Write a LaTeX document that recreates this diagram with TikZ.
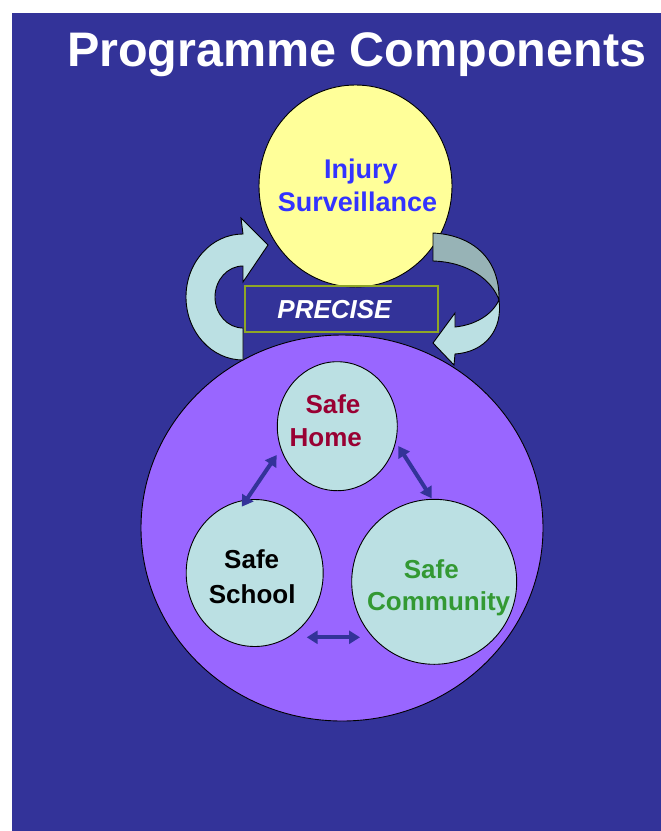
\documentclass[tikz,border=0pt]{standalone}
\usepackage{fontspec}
\setmainfont{Liberation Sans}
\usetikzlibrary{shapes.geometric,arrows.meta}
\definecolor{bgblue}{HTML}{333399}
\definecolor{violetfill}{HTML}{9966FF}
\definecolor{yellowfill}{HTML}{FFFF99}
\definecolor{cyanfill}{HTML}{BBE0E3}
\definecolor{darkribbon}{HTML}{97B3B6}
\definecolor{injuryblue}{HTML}{3333FF}
\definecolor{homered}{HTML}{990033}
\definecolor{commgreen}{HTML}{339933}
\definecolor{boxgreen}{RGB}{143,166,38}
\tikzset{
  blob/.style={ellipse, draw=black, line width=0.9pt, inner sep=0pt},
  lbl/.style={anchor=base, inner sep=0pt, font=\fontsize{26}{31}\selectfont\bfseries},
  linkarrow/.style={{Triangle[length=11pt,width=13pt]}-{Triangle[length=11pt,width=13pt]}, line width=4pt, draw=bgblue},
  ribbon/.style={draw=black, line width=0.9pt, line join=miter},
}
\begin{document}
\begin{tikzpicture}[x=1pt,y=-1pt]
\useasboundingbox (0,0) rectangle (661,831);
\fill[white] (0,0) rectangle (661,831);
\fill[bgblue] (12,13) rectangle (661,831);

% title
\node[anchor=base, inner sep=0pt, text=white, font=\fontsize{48.5}{58}\selectfont\bfseries] (title) at (356.7,66.5) {Programme Components};

% big purple circle
\node[blob, fill=violetfill, minimum width=402pt, minimum height=386pt] (outer) at (342,528) {};

% inner circles
\node[blob, fill=cyanfill, minimum width=120pt, minimum height=129pt] (home) at (337.3,426.2) {};
\node[blob, fill=cyanfill, minimum width=137pt, minimum height=147pt] (school) at (254.7,573) {};
\node[blob, fill=cyanfill, minimum width=165pt, minimum height=165pt] (community) at (434.2,581.8) {};

% link arrows
\coordinate (hs1) at (276.7,455);
\coordinate (hs2) at (241.7,506.7);
\coordinate (hc1) at (398.3,446);
\coordinate (hc2) at (431.7,498.3);
\coordinate (sc1) at (306.7,637.3);
\coordinate (sc2) at (360,637.3);
\draw[linkarrow] (hs1) -- (hs2);
\draw[linkarrow] (hc1) -- (hc2);
\draw[linkarrow] (sc1) -- (sc2);

% yellow circle
\node[blob, fill=yellowfill, minimum width=193pt, minimum height=202pt] (surv) at (355.5,186) {};

% PRECISE box
\node[draw=boxgreen, line width=1.1pt, minimum width=193pt, minimum height=46pt, inner sep=0pt] (box) at (341.5,309) {};

% left curved arrow
\filldraw[ribbon, fill=cyanfill] (243,360)
  arc[start angle=90, end angle=270, x radius=57, y radius=63]
  -- (241,218) -- (268,245) -- (243,282) -- (243,266)
  arc[start angle=270, end angle=90, x radius=28, y radius=31]
  -- cycle;

% right curved arrow (twisted ribbon)
\filldraw[ribbon, fill=darkribbon] (433,233)
  .. controls (472,235) and (500,258) .. (499,300)
  .. controls (492,280) and (468,262) .. (433,261) -- cycle;
\filldraw[ribbon, fill=cyanfill] (499,300)
  .. controls (503,330) and (485,352) .. (455,354)
  -- (454,365) -- (433,343) -- (455,313) -- (455,327)
  .. controls (475,325) and (492,315) .. (499,300) -- cycle;

% texts
\node[lbl, text=injuryblue, font=\fontsize{27}{32}\selectfont\bfseries] (surv1) at (360.8,178.3) {Injury};
\node[lbl, text=injuryblue, font=\fontsize{27}{32}\selectfont\bfseries] (surv2) at (357.5,211.7) {Surveillance};
\node[lbl, text=white, font=\fontsize{26}{31}\selectfont\bfseries\itshape] (precise) at (334.5,318) {PRECISE};
\node[lbl, text=homered] (home1) at (333,413.3) {Safe};
\node[lbl, text=homered] (home2) at (325.8,446.7) {Home};
\node[lbl, text=black] (school1) at (251.7,568.3) {Safe};
\node[lbl, text=black] (school2) at (252.2,603.3) {School};
\node[lbl, text=commgreen] (comm1) at (431.3,578.3) {Safe};
\node[lbl, text=commgreen] (comm2) at (438.7,610.7) {Community};
\end{tikzpicture}
\end{document}
